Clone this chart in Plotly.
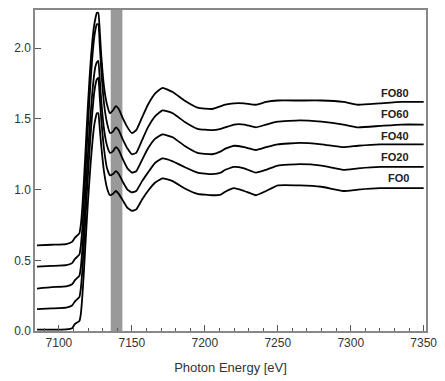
import plotly.graph_objects as go

energy = [7085, 7095, 7105, 7109, 7111, 7114, 7115, 7116, 7117, 7118, 7119, 7120, 7121,
          7122, 7123, 7124, 7125, 7126, 7127, 7128, 7129, 7131, 7133, 7135, 7137, 7139,
          7141, 7144, 7147, 7150, 7153, 7157, 7161, 7166, 7171, 7178, 7186, 7195, 7205,
          7211, 7214, 7220, 7227, 7235, 7242, 7250, 7265, 7280, 7295, 7305, 7320, 7335, 7350]

fo0 = [0.01, 0.01, 0.012, 0.02, 0.05, 0.07, 0.12, 0.24, 0.40, 0.58, 0.76, 0.93, 1.08,
       1.22, 1.34, 1.44, 1.50, 1.54, 1.54, 1.43, 1.31, 1.12, 1.01, 0.96, 0.97, 0.99,
       0.97, 0.92, 0.87, 0.85, 0.86, 0.93, 0.99, 1.05, 1.08, 1.06, 1.01, 0.97, 0.96,
       0.965, 0.985, 1.01, 0.99, 0.96, 0.99, 1.03, 1.03, 1.02, 0.99, 1.00, 1.01, 1.01, 1.01]

fo20 = [0.155, 0.16, 0.165, 0.18, 0.21, 0.24, 0.30, 0.42, 0.58, 0.76, 0.95, 1.12, 1.28,
        1.43, 1.56, 1.67, 1.74, 1.78, 1.79, 1.65, 1.50, 1.28, 1.15, 1.10, 1.11, 1.13,
        1.11, 1.05, 1.00, 0.98, 0.99, 1.06, 1.12, 1.19, 1.22, 1.20, 1.16, 1.12, 1.11,
        1.12, 1.14, 1.16, 1.15, 1.12, 1.14, 1.17, 1.18, 1.17, 1.14, 1.15, 1.16, 1.16, 1.16]

fo40 = [0.30, 0.31, 0.315, 0.33, 0.36, 0.39, 0.45, 0.57, 0.73, 0.91, 1.10, 1.27, 1.43,
        1.57, 1.70, 1.80, 1.87, 1.90, 1.91, 1.78, 1.63, 1.42, 1.31, 1.26, 1.27, 1.30,
        1.28, 1.21, 1.15, 1.12, 1.13, 1.21, 1.29, 1.36, 1.39, 1.37, 1.31, 1.26, 1.25,
        1.27, 1.29, 1.31, 1.30, 1.28, 1.30, 1.32, 1.33, 1.32, 1.30, 1.31, 1.32, 1.32, 1.32]

fo60 = [0.455, 0.46, 0.465, 0.48, 0.51, 0.54, 0.60, 0.72, 0.89, 1.08, 1.28, 1.47, 1.65,
        1.81, 1.95, 2.06, 2.13, 2.17, 2.17, 2.02, 1.85, 1.60, 1.47, 1.40, 1.41, 1.44,
        1.42, 1.35, 1.29, 1.25, 1.26, 1.35, 1.44, 1.52, 1.56, 1.54, 1.48, 1.43, 1.42,
        1.43, 1.44, 1.46, 1.46, 1.44, 1.46, 1.48, 1.49, 1.48, 1.46, 1.44, 1.45, 1.46, 1.46]

fo80 = [0.605, 0.61, 0.615, 0.63, 0.66, 0.69, 0.75, 0.87, 1.04, 1.23, 1.43, 1.62, 1.79,
        1.94, 2.06, 2.15, 2.21, 2.25, 2.25, 2.12, 1.95, 1.72, 1.60, 1.54, 1.56, 1.59,
        1.57, 1.50, 1.44, 1.40, 1.42, 1.51, 1.60, 1.68, 1.72, 1.69, 1.63, 1.58, 1.57,
        1.59, 1.60, 1.61, 1.61, 1.60, 1.62, 1.63, 1.63, 1.63, 1.62, 1.60, 1.61, 1.62, 1.62]

series = [("FO0", fo0), ("FO20", fo20), ("FO40", fo40), ("FO60", fo60), ("FO80", fo80)]
label_y = [1.08, 1.23, 1.38, 1.535, 1.68]
label_x = 7341
band = [7135.5, 7143.5]

fig = go.Figure()
fig.add_vrect(x0=band[0], x1=band[1], fillcolor="#999999", opacity=1, line_width=0, layer="below")

for name, ys in series:
    fig.add_trace(go.Scatter(x=energy, y=ys, mode="lines", name=name, hoverinfo="skip",
                             line=dict(color="black", width=1.8, shape="spline", smoothing=0.4)))

for (name, _), ly in zip(series, label_y):
    fig.add_annotation(x=label_x, y=ly, text="<b>%s</b>" % name, showarrow=False,
                       xanchor="right", yanchor="middle",
                       font=dict(family="Liberation Sans, Arial", size=11, color="#222222"))

fig.update_layout(
    width=445, height=381,
    margin=dict(l=35, r=13, t=8, b=50),
    paper_bgcolor="white", plot_bgcolor="white",
    showlegend=False,
    font=dict(family="Liberation Sans, Arial", size=12, color="#333333"),
)
fig.update_xaxes(range=[7083.6, 7351.6], tickvals=[7100, 7150, 7200, 7250, 7300, 7350],
                 ticks="inside", ticklen=6, tickcolor="#555555", tickwidth=1.2,
                 showgrid=False, zeroline=False,
                 showline=True, linecolor="#888888", linewidth=1.5, mirror=True,
                 minor=dict(dtick=10, tick0=7100, ticks="inside", ticklen=3, tickcolor="#555555", showgrid=False),
                 title=dict(text="Photon Energy [eV]", font=dict(size=13, color="#333333"), standoff=14),
                 tickfont=dict(size=12, color="#333333"))
fig.update_yaxes(range=[0, 2.27], tickvals=[0, 0.5, 1.0, 1.5, 2.0], tickformat=".1f",
                 ticks="inside", ticklen=6, tickcolor="#555555", tickwidth=1.2,
                 showgrid=False, zeroline=False,
                 showline=True, linecolor="#888888", linewidth=1.5, mirror=True,
                 tickfont=dict(size=12, color="#333333"))

fig.write_html("out.html", config={"displayModeBar": False},
               post_script="document.body.style.margin='0';")
